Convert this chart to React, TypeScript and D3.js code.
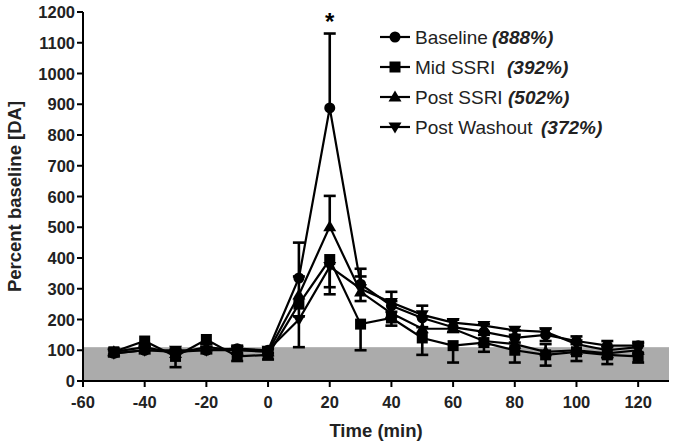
import * as d3 from "d3";

const times = [-50, -40, -30, -20, -10, 0, 10, 20, 30, 40, 50, 60, 70, 80, 90, 100, 110, 120];

const baseline = [90, 100, 95, 100, 105, 100, 335, 888, 315, 245, 205, 175, 160, 140, 150, 130, 115, 115];
const baselineErr = [10, 10, 10, 10, 10, 8, 115, 242, 50, 45, 40, 25, 25, 25, 20, 15, 15, 12];

const midSsri = [95, 130, 80, 135, 80, 85, 250, 395, 185, 205, 140, 115, 125, 100, 85, 95, 85, 80];
const midSsriErr = [10, 15, 35, 15, 15, 15, 40, 90, 85, 25, 55, 55, 30, 40, 35, 30, 30, 20];

const postSsri = [95, 110, 90, 110, 100, 95, 280, 502, 290, 220, 170, 170, 130, 120, 95, 100, 90, 100];
const postSsriErr = [10, 10, 10, 10, 10, 10, 60, 100, 50, 40, 40, 30, 30, 30, 25, 20, 20, 15];

const postWashout = [90, 100, 100, 100, 100, 100, 200, 372, 300, 255, 215, 190, 180, 165, 160, 120, 100, 110];
const postWashoutErr = [10, 10, 10, 10, 10, 10, 90, 90, 40, 30, 40, 30, 30, 40, 30, 25, 25, 20];

const xTicks = [-60, -40, -20, 0, 20, 40, 60, 80, 100, 120];
const yTicks = [0, 100, 200, 300, 400, 500, 600, 700, 800, 900, 1000, 1100, 1200];

const seriesList = [
  { name: "Baseline", pct: "(888%)", gap: 77, values: baseline, err: baselineErr, dir: 1, shape: "circle" },
  { name: "Mid SSRI", pct: "(392%)", gap: 92, values: midSsri, err: midSsriErr, dir: -1, shape: "square" },
  { name: "Post SSRI", pct: "(502%)", gap: 93, values: postSsri, err: postSsriErr, dir: 1, shape: "up" },
  { name: "Post Washout", pct: "(372%)", gap: 126, values: postWashout, err: postWashoutErr, dir: -1, shape: "down" },
];

const SHADE_TOP = 110;

const X0 = 83;
const X1 = 669;
const Y0 = 381;
const Y1 = 12;

const Marker = ({ shape, x, y }: { shape: string; x: number; y: number }) => {
  if (shape === "circle") return <circle cx={x} cy={y} r={5.5} fill="#000" />;
  if (shape === "square") return <rect x={x - 5.5} y={y - 5.5} width={11} height={11} fill="#000" />;
  const s = 6.5;
  const pts =
    shape === "up"
      ? [[x, y - s], [x + s, y + s * 0.7], [x - s, y + s * 0.7]]
      : [[x, y + s], [x + s, y - s * 0.7], [x - s, y - s * 0.7]];
  return <polygon points={pts.map((p) => p.join(",")).join(" ")} fill="#000" />;
};

export default function App() {
  const xScale = d3.scaleLinear().domain([-60, 130]).range([X0, X1]);
  const yScale = d3.scaleLinear().domain([0, 1200]).range([Y0, Y1]);

  const line = d3
    .line<number>()
    .x((_, i) => xScale(times[i]))
    .y((d) => yScale(d));

  const font = "'Liberation Sans', Arial, sans-serif";

  return (
    <svg
      width={673}
      height={443}
      style={{ position: "absolute", left: 0, top: 0, background: "#fff" }}
      fontFamily={font}
    >
      {/* shaded baseline band */}
      <rect
        x={X0}
        y={yScale(SHADE_TOP)}
        width={X1 - X0}
        height={Y0 - yScale(SHADE_TOP)}
        fill="#ababab"
      />

      {/* series */}
      {seriesList.map((s) => (
        <g key={s.name}>
          {s.values.map((v, i) => {
            const x = xScale(times[i]);
            const yEnd = yScale(v + s.dir * s.err[i]);
            return (
              <g key={i}>
                <line x1={x} x2={x} y1={yScale(v)} y2={yEnd} stroke="#000" strokeWidth={2.6} />
                <line x1={x - 6} x2={x + 6} y1={yEnd} y2={yEnd} stroke="#000" strokeWidth={2.6} />
              </g>
            );
          })}
          <path d={line(s.values)!} fill="none" stroke="#000" strokeWidth={2.2} />
          {s.values.map((v, i) => (
            <Marker key={i} shape={s.shape} x={xScale(times[i])} y={yScale(v)} />
          ))}
        </g>
      ))}

      {/* asterisk */}
      <text x={xScale(20)} y={30} textAnchor="middle" fontSize={24} fontWeight="bold">
        *
      </text>

      {/* y axis */}
      <line x1={X0} x2={X0} y1={Y0} y2={yScale(1200)} stroke="#000" strokeWidth={2} />
      {yTicks.map((t) => (
        <g key={t}>
          <line x1={X0 - 6} x2={X0} y1={yScale(t)} y2={yScale(t)} stroke="#000" strokeWidth={2} />
          <text
            x={X0 - 8}
            y={yScale(t)}
            textAnchor="end"
            dominantBaseline="central"
            fontSize={16.5}
            fontWeight="bold"
            fill="#222"
          >
            {t}
          </text>
        </g>
      ))}

      {/* x axis */}
      <line x1={X0} x2={X1} y1={Y0} y2={Y0} stroke="#000" strokeWidth={2} />
      {xTicks.map((t) => (
        <g key={t}>
          <line x1={xScale(t)} x2={xScale(t)} y1={Y0} y2={Y0 + 6} stroke="#000" strokeWidth={2} />
          <text
            x={xScale(t)}
            y={Y0 + 27}
            textAnchor="middle"
            fontSize={16.5}
            fontWeight="bold"
            fill="#222"
          >
            {t}
          </text>
        </g>
      ))}

      <text x={376} y={437} textAnchor="middle" fontSize={18.5} fontWeight="bold" fill="#222">
        Time (min)
      </text>
      <text
        transform={`translate(21,${yScale(600)}) rotate(-90)`}
        textAnchor="middle"
        fontSize={18.5}
        fontWeight="bold"
        fill="#222"
      >
        Percent baseline [DA]
      </text>

      {/* legend */}
      {seriesList.map((s, i) => {
        const y = 37 + i * 30;
        return (
          <g key={s.name}>
            <line x1={380} x2={410} y1={y} y2={y} stroke="#000" strokeWidth={2.2} />
            <Marker shape={s.shape} x={395} y={y} />
            <text x={415} y={y} dominantBaseline="central" fontSize={19} fill="#222">
              {s.name}
            </text>
            <text
              x={415 + s.gap}
              y={y}
              dominantBaseline="central"
              fontSize={19}
              fontWeight="bold"
              fontStyle="italic"
              fill="#222"
            >
              {s.pct}
            </text>
          </g>
        );
      })}
    </svg>
  );
}
